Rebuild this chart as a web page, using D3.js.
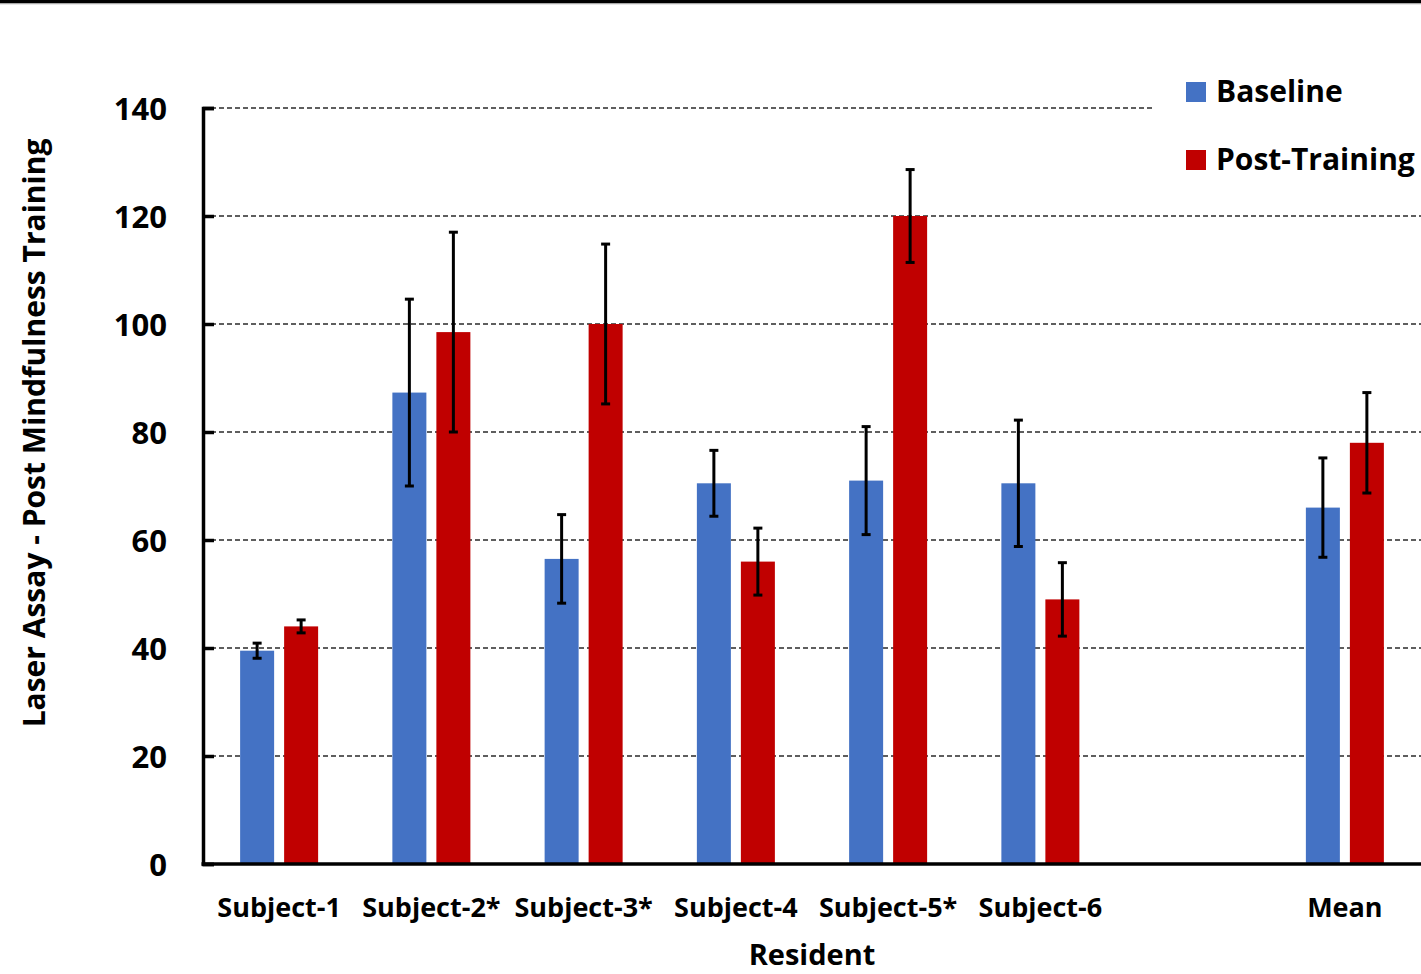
<!DOCTYPE html>
<html>
<head>
<meta charset="utf-8">
<script src="https://cdn.jsdelivr.net/npm/d3@7"></script>
<style>
  html, body { margin: 0; padding: 0; background: #fff; }
  svg text { font-family: "Open Sans", "Liberation Sans", sans-serif; font-weight: 700; fill: #000; }
</style>
</head>
<body>
<svg id="chart" width="1421" height="974"></svg>
<script>
// Residents (blank slot separates individual subjects from the group mean)
const categories = ["Subject-1", "Subject-2*", "Subject-3*", "Subject-4", "Subject-5*", "Subject-6", "", "Mean"];
const series = ["Baseline", "Post-Training"];
const baseline     = [39.5, 87.3, 56.5, 70.5, 71.0, 70.5, null, 66.0];
const baselineErr  = [1.4, 17.3, 8.2, 6.1, 10.0, 11.7, null, 9.2];
const postTraining = [44.0, 98.5, 100.0, 56.0, 120.0, 49.0, null, 78.0];
const postErr      = [1.2, 18.5, 14.8, 6.2, 8.6, 6.8, null, 9.3];
const yTicks = [0, 20, 40, 60, 80, 100, 120, 140];

const colors = { "Baseline": "#4472C4", "Post-Training": "#C00000" };

const svg = d3.select("#chart");
const W = 1421, H = 974;
const plotLeft = 203, plotRight = 1421, plotTop = 108, plotBottom = 864;

// frame rule across the top
svg.append("rect").attr("x", 0).attr("y", 0).attr("width", W).attr("height", 3.5).attr("fill", "#000");
svg.append("rect").attr("x", 0).attr("y", 3.5).attr("width", W).attr("height", 1).attr("fill", "#d0d0d0");

const x = d3.scaleBand().domain(categories).range([plotLeft, plotRight]).padding(0);
const xs = d3.scaleBand().domain(series).range([-39, 39]).paddingInner(10 / 44).paddingOuter(0);
const y = d3.scaleLinear().domain([0, 140]).range([plotBottom, plotTop]);

// dashed gridlines (the top one stops short of the legend)
svg.append("g").selectAll("line")
  .data(yTicks.filter(t => t > 0))
  .join("line")
  .attr("x1", plotLeft).attr("x2", d => d === 140 ? 1153 : plotRight)
  .attr("y1", d => y(d)).attr("y2", d => y(d))
  .attr("stroke", "#2a2a2a").attr("stroke-width", 1.5).attr("stroke-dasharray", "5,3");

// bars
const rows = categories.map((c, i) => ({
  cat: c,
  vals: [
    { s: "Baseline", v: baseline[i], e: baselineErr[i] },
    { s: "Post-Training", v: postTraining[i], e: postErr[i] }
  ]
})).filter(r => r.vals[0].v != null);

const groups = svg.append("g").selectAll("g")
  .data(rows).join("g")
  .attr("transform", d => `translate(${x(d.cat) + x.bandwidth() / 2},0)`);

groups.selectAll("rect")
  .data(d => d.vals).join("rect")
  .attr("x", d => xs(d.s)).attr("width", xs.bandwidth())
  .attr("y", d => y(d.v)).attr("height", d => y(0) - y(d.v))
  .attr("fill", d => colors[d.s]);

// error bars
const eb = groups.selectAll("g.err")
  .data(d => d.vals).join("g").attr("class", "err")
  .attr("transform", d => `translate(${xs(d.s) + xs.bandwidth() / 2},0)`);
eb.append("line")
  .attr("x1", 0).attr("x2", 0)
  .attr("y1", d => y(d.v + d.e)).attr("y2", d => y(d.v - d.e))
  .attr("stroke", "#000").attr("stroke-width", 3);
eb.selectAll("line.cap")
  .data(d => [d.v + d.e, d.v - d.e]).join("line").attr("class", "cap")
  .attr("x1", -4.5).attr("x2", 4.5)
  .attr("y1", d => y(d)).attr("y2", d => y(d))
  .attr("stroke", "#000").attr("stroke-width", 3);

// y axis
const yAxis = svg.append("g")
  .attr("transform", `translate(${plotLeft},0)`)
  .call(d3.axisLeft(y).tickValues(yTicks).tickSize(-11).tickPadding(36).tickFormat(d3.format("d")));
yAxis.select(".domain").attr("stroke", "#000").attr("stroke-width", 3.5);
yAxis.selectAll(".tick line").attr("stroke", "#000").attr("stroke-width", 3.5);
yAxis.selectAll(".tick text")
  .style("font-size", "31px").style("font-family", '"Open Sans", sans-serif').style("font-weight", 700)
  .attr("fill", "#000").attr("dy", "0.36em");

// x axis
const xAxis = svg.append("g")
  .attr("transform", `translate(0,${plotBottom})`)
  .call(d3.axisBottom(x).tickSize(0).tickPadding(37));
xAxis.select(".domain").attr("stroke", "#000").attr("stroke-width", 3.5)
  .attr("d", `M${plotLeft - 1.5},0H${plotRight}`);
xAxis.selectAll(".tick text")
  .style("font-size", "27px").style("font-family", '"Open Sans", sans-serif').style("font-weight", 700)
  .attr("fill", "#000").attr("dy", "0.6em");

// axis titles
svg.append("text")
  .attr("transform", "translate(45,433) rotate(-90)")
  .attr("text-anchor", "middle")
  .style("font-size", "30px")
  .text("Laser Assay - Post Mindfulness Training");
svg.append("text")
  .attr("x", 812).attr("y", 965)
  .attr("text-anchor", "middle")
  .style("font-size", "29px")
  .text("Resident");

// legend
const legend = svg.append("g").selectAll("g")
  .data(series).join("g")
  .attr("transform", (d, i) => `translate(1186,${82 + i * 68})`);
legend.append("rect").attr("width", 20).attr("height", 20).attr("fill", d => colors[d]);
legend.append("text").attr("x", 30).attr("y", 20).style("font-size", "30px").text(d => d);
</script>
</body>
</html>
